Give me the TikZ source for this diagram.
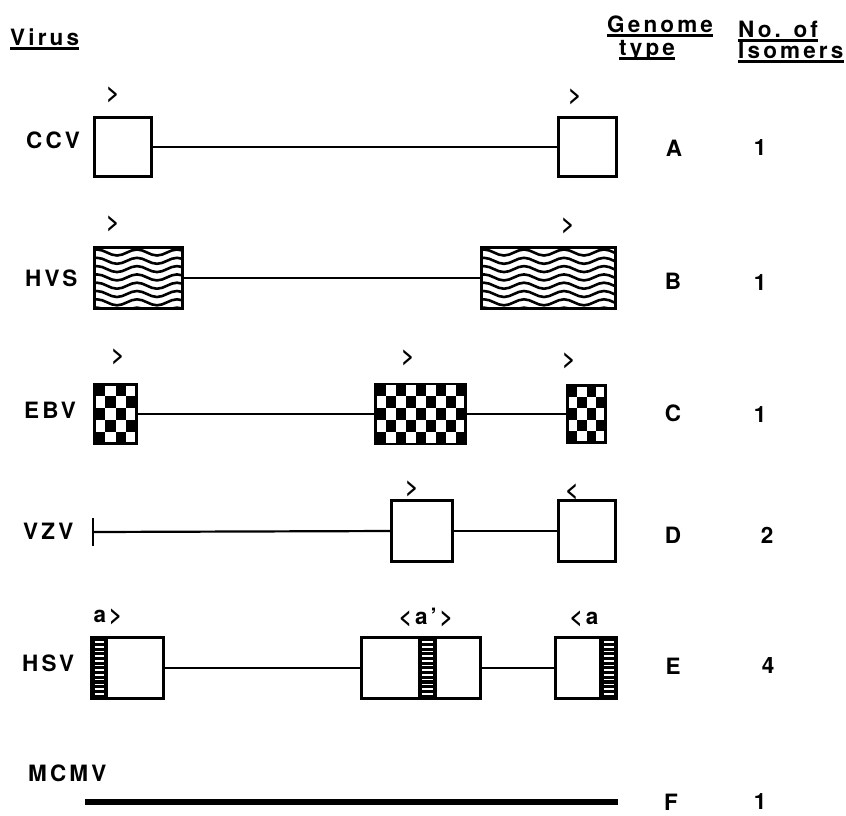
\documentclass[tikz,border=0pt]{standalone}
\usepackage{fontspec}
\setmainfont{TeX Gyre Heros}[LetterSpace=14]
\usetikzlibrary{positioning,decorations.pathmorphing}
% underlined header word
\newcommand\hdrline[1]{\setbox0\hbox{#1}\rlap{\usebox0}\rule[-4.5pt]{\wd0}{2.4pt}}
\tikzset{
  gbox/.style={draw, line width=2.8pt, rectangle, inner sep=0pt, fill=white},
  conn/.style={line width=2.2pt},
  lbl/.style={font={\fontsize{22.5}{26}\selectfont\bfseries}, inner sep=0pt},
  wavy/.style={path picture={
    \foreach \r in {0,...,7}
      \draw[line width=2.6pt, decorate, decoration={snake, segment length=40pt, amplitude=3pt}]
        ([xshift=-10pt, yshift={-5pt-\r*8.3pt}]path picture bounding box.north west) --
        ([xshift=30pt, yshift={-5pt-\r*8.3pt}]path picture bounding box.north east);
  }},
  checker/.style 2 args={path picture={
    \foreach \i in {0,...,9}{
      \foreach \j in {0,...,5}{
        \pgfmathtruncatemacro\odd{mod(\i+\j,2)}
        \ifnum\odd=0
          \fill[black] ([xshift={\i*#1pt}, yshift={-\j*#2pt}]path picture bounding box.north west)
            rectangle ++(#1,#2);
        \fi
      }}
  }},
  stripes/.style={draw, fill=black, line width=2.8pt, inner sep=0pt,
    minimum width=#1, minimum height=61pt, path picture={
    \foreach \k in {0,...,11}
      \draw[white, line width=1.6pt]
        ([xshift=3pt, yshift={-4.5pt-\k*4.7pt}]path picture bounding box.north west) --
        ([xshift=-3pt, yshift={-4.5pt-\k*4.7pt}]path picture bounding box.north east);
  }},
}
\begin{document}
\begin{tikzpicture}[x=1pt,y=-1pt]
\useasboundingbox (0,0) rectangle (846,815);
% headers
\node[lbl, anchor=base west] (hdrVirus) at (10,45) {\hdrline{Virus}};
\node[lbl, anchor=base west] (hdrGenome) at (607,32) {\hdrline{Genome}};
\node[lbl, anchor=base west] (hdrType) at (619,55) {\hdrline{type}};
\node[lbl, anchor=base west] (hdrNo) at (738,37) {\hdrline{No. of}};
\node[lbl, anchor=base west] (hdrIso) at (738,58) {\hdrline{Isomers}};
% CCV
\node[lbl, anchor=west] (lblCCV) at (26,140) {CCV};
\node[gbox, minimum width=57pt, minimum height=59pt] (ccvL) at (123,147) {};
\node[gbox, minimum width=58pt, minimum height=59pt] (ccvR) at (587.5,147) {};
\draw[conn] (ccvL.east) -- (ccvR.west);
\node[lbl] (ccvLo) at (113,95) {>};
\node[lbl] (ccvRo) at (575,97) {>};
\node[lbl] (typA) at (674,148) {A};
\node[lbl] (isoA) at (760,148) {1};
% HVS
\node[lbl, anchor=west] (lblHVS) at (25,278) {HVS};
\node[gbox, wavy, minimum width=88pt, minimum height=61pt] (hvsL) at (138.5,278) {};
\node[gbox, wavy, minimum width=134pt, minimum height=61pt] (hvsR) at (548.5,278) {};
\draw[conn] (hvsL.east) -- (hvsR.west);
\node[lbl] (hvsLo) at (113,224) {>};
\node[lbl] (hvsRo) at (568,226) {>};
\node[lbl] (typB) at (673,281) {B};
\node[lbl] (isoB) at (760,283) {1};
% EBV
\node[lbl, anchor=west] (lblEBV) at (24,410) {EBV};
\node[gbox, checker={10.5}{11.8}, minimum width=42pt, minimum height=59pt] (ebvL) at (115.5,414) {};
\node[gbox, checker={10}{12}, minimum width=90pt, minimum height=60pt] (ebvM) at (420.5,414) {};
\node[gbox, checker={9.5}{11.4}, minimum width=38pt, minimum height=57pt] (ebvR) at (586.5,414) {};
\draw[conn] (ebvL.east) -- (ebvM.west);
\draw[conn] (ebvM.east) -- (ebvR.west);
\node[lbl] (ebvLo) at (118,357) {>};
\node[lbl] (ebvMo) at (408,358) {>};
\node[lbl] (ebvRo) at (569,361) {>};
\node[lbl] (typC) at (673,413) {C};
\node[lbl] (isoC) at (760,415) {1};
% VZV
\node[lbl, anchor=west] (lblVZV) at (23,531) {VZV};
\coordinate (vzvT) at (93,532);
\draw[line width=2.6pt] ([yshift=14pt]vzvT) -- ([yshift=-14pt]vzvT);
\node[gbox, minimum width=61pt, minimum height=61pt] (vzvM) at (422,531) {};
\node[gbox, minimum width=57pt, minimum height=61pt] (vzvR) at (587,531) {};
\draw[conn] (vzvT) -- (vzvM.west);
\draw[conn] (vzvM.east) -- (vzvR.west);
\node[lbl] (vzvMo) at (412,489) {>};
\node[lbl] (vzvRo) at (572,492) {<};
\node[lbl] (typD) at (673,535) {D};
\node[lbl] (isoD) at (767,535) {2};
% HSV
\node[lbl, anchor=west] (lblHSV) at (22,663) {HSV};
\node[gbox, minimum width=72pt, minimum height=61pt] (hsvL) at (127.5,668) {};
\node[gbox, minimum width=119pt, minimum height=61pt] (hsvM) at (421,668) {};
\node[gbox, minimum width=61pt, minimum height=61pt] (hsvR) at (586,668) {};
\node[stripes=15pt, right=0pt of hsvL.west] (hsvLa) {};
\node[stripes=17pt] (hsvMa) at ([xshift=6.5pt]hsvM.center) {};
\node[stripes=16pt, left=0pt of hsvR.east] (hsvRa) {};
\draw[conn] (hsvL.east) -- (hsvM.west);
\draw[conn] (hsvM.east) -- (hsvR.west);
\node[lbl] (hsvLo) at (108,617) {a>};
\node[lbl] (hsvMo) at (426,617) {<a'>};
\node[lbl] (hsvRo) at (584,619) {<a};
\node[lbl] (typE) at (673,666) {E};
\node[lbl] (isoE) at (768,666) {4};
% MCMV
\node[lbl, anchor=west] (lblMCMV) at (28,773) {MCMV};
\coordinate (mcmvA) at (85,802);
\coordinate (mcmvB) at (618,802);
\draw[line width=6pt] (mcmvA) -- (mcmvB);
\node[lbl] (typF) at (671,802) {F};
\node[lbl] (isoF) at (760,802) {1};
\end{tikzpicture}
\end{document}
